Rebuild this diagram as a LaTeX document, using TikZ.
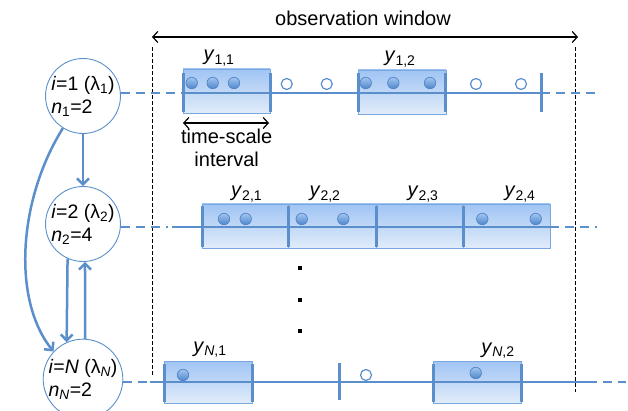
\documentclass[tikz,border=0pt]{standalone}
\usepackage{fontspec}
\setmainfont{Liberation Sans}
\usetikzlibrary{arrows.meta,calc}
\definecolor{lb}{HTML}{5B8FCB}
\definecolor{boxtop}{HTML}{A0C4F4}
\definecolor{boxbot}{HTML}{E1ECF9}
\definecolor{boxedge}{HTML}{79A7E0}
\definecolor{dottop}{HTML}{A2C5F0}
\definecolor{dotbot}{HTML}{4F86CC}
\definecolor{dotedge}{HTML}{4A7EC2}
\tikzset{
  state/.style={circle, draw=lb, line width=0.9pt, fill=white, minimum size=74pt,
    inner sep=0pt, align=left, font=\fontsize{19.5}{23}\selectfont},
  tbox/.style={draw=boxedge, line width=0.8pt, top color=boxtop, bottom color=boxbot,
    inner sep=0pt},
  tline/.style={lb, line width=2.6pt},
  tdash/.style={lb, line width=2.6pt, dash pattern=on 9pt off 6pt},
  tickmark/.style={lb, line width=3pt},
  fdot/.style={circle, minimum size=11.5pt, inner sep=0pt, top color=dottop,
    bottom color=dotbot, draw=dotedge, line width=0.6pt},
  odot/.style={circle, minimum size=11pt, inner sep=0pt, fill=white, draw=lb,
    line width=1.2pt},
  lab/.style={anchor=base, font=\fontsize{20}{23}\selectfont, inner sep=0pt},
  blkarrow/.style={black, line width=1.2pt, {Straight Barb[length=5pt,width=11pt]}-{Straight Barb[length=5pt,width=11pt]}},
  bluearrow/.style={lb, line width=2.5pt, -{Straight Barb[length=6pt,width=12pt]}},
  winline/.style={black, line width=1pt, dash pattern=on 4pt off 2pt},
  vdot/.style={fill=black, minimum size=4pt, inner sep=0pt, rectangle}
}
\begin{document}
\begin{tikzpicture}[x=1pt,y=-1pt]
\useasboundingbox (0,0) rectangle (628,411);

% observation window
\coordinate (owL) at (152,37);
\coordinate (owR) at (578,37);
\draw[blkarrow] (owL) -- (owR);
\node[lab] (owlab) at (363,26) {observation window};
\coordinate (wl1) at (152,47); \coordinate (wl2) at (152,375);
\coordinate (wr1) at (575,47); \coordinate (wr2) at (575,392);
\draw[winline] (wl1) -- (wl2);
\draw[winline] (wr1) -- (wr2);

% state circles
\node[state] (c1) at (83,96) {\textit{i}=1 (λ\textsubscript{1})\\\textit{n}\textsubscript{1}=2};
\node[state] (c2) at (83,224) {\textit{i}=2 (λ\textsubscript{2})\\\textit{n}\textsubscript{2}=4};
\node[state] (cN) at (83,379) {\textit{i}=\textit{N} (λ\textsubscript{\textit{N}})\\\textit{n}\textsubscript{\textit{N}}=2};

\draw[bluearrow] (c1) -- (c2);
\draw[bluearrow] (c2.246) -- (cN.114);
\draw[bluearrow] (cN.87) -- (c2.273);
\draw[bluearrow] (c1.238) .. controls (18,200) and (12,300) .. (cN.137);

% ---------- row 1 ----------
\node[tbox, minimum width=87pt, minimum height=44pt] (b11) at (226.5,91) {};
\node[tbox, minimum width=88pt, minimum height=44pt] (b12) at (402,92) {};
\draw[tdash] (c1.east |- 0,93) -- (183,93);
\draw[tline] (183,93) -- (541,93);
\draw[tdash] (541,93) -- (598,93);
\foreach \xx in {183,270,358,445.5}{\draw[tickmark] (\xx,73) -- (\xx,112);}
\draw[tickmark] (541,73) -- (541,112);
\foreach \xx [count=\i] in {191.7,212.7,234,365.7,393.3,430}{\node[fdot] (r1f\i) at (\xx,83) {};}
\foreach \xx [count=\i] in {286.7,326.7,476,521}{\node[odot] (r1o\i) at (\xx,84) {};}
\node[lab] (y11) at (219,61) {\textit{y}\textsubscript{1,1}};
\node[lab] (y12) at (400,62) {\textit{y}\textsubscript{1,2}};
\coordinate (tsL) at (183,123); \coordinate (tsR) at (269,123);
\draw[blkarrow] (tsL) -- (tsR);
\node[lab, align=center] (tslab) at (226.7,167) {time-scale\\interval};

% ---------- row 2 ----------
\node[tbox, minimum width=86pt, minimum height=44pt] (b21) at (245,226) {};
\node[tbox, minimum width=88pt, minimum height=44pt] (b22) at (332,226) {};
\node[tbox, minimum width=87pt, minimum height=44pt] (b23) at (419.5,226) {};
\node[tbox, minimum width=87pt, minimum height=44pt] (b24) at (506.5,226) {};
\draw[tdash] (c2.east |- 0,227) -- (168,227);
\draw[tline] (172,227) -- (550,227);
\draw[tdash] (550,227) -- (597,227);
\foreach \xx in {202,288,376,463}{\draw[tickmark] (\xx,206) -- (\xx,247);}
\foreach \xx [count=\i] in {224,245.7,301.7,343.3,482.3,535.7}{\node[fdot] (r2f\i) at (\xx,219) {};}
\node[lab] (y21) at (246.7,197) {\textit{y}\textsubscript{2,1}};
\node[lab] (y22) at (325,197) {\textit{y}\textsubscript{2,2}};
\node[lab] (y23) at (423,197) {\textit{y}\textsubscript{2,3}};
\node[lab] (y24) at (520,197) {\textit{y}\textsubscript{2,4}};

% vertical dots
\node[vdot] (vd1) at (299.5,268) {};
\node[vdot] (vd2) at (299.5,299.5) {};
\node[vdot] (vd3) at (299.5,331) {};

% ---------- row N ----------
\node[tbox, minimum width=88pt, minimum height=42pt] (bN1) at (208,382) {};
\node[tbox, minimum width=88pt, minimum height=42pt] (bN2) at (477,382) {};
\draw[tdash] (cN.east |- 0,382) -- (150,382);
\draw[tline] (150,382) -- (588,382);
\draw[tdash] (588,382) -- (626,382);
\foreach \xx in {164,252,433,521}{\draw[tickmark] (\xx,364) -- (\xx,402);}
\draw[tickmark] (339,363) -- (339,400);
\node[fdot] (rNf1) at (183,375) {};
\node[odot] (rNo1) at (366,375) {};
\node[fdot] (rNf2) at (475.7,373) {};
\node[lab] (yN1) at (210,352) {\textit{y}\textsubscript{\textit{N},1}};
\node[lab] (yN2) at (498,353) {\textit{y}\textsubscript{\textit{N},2}};
\end{tikzpicture}
\end{document}
